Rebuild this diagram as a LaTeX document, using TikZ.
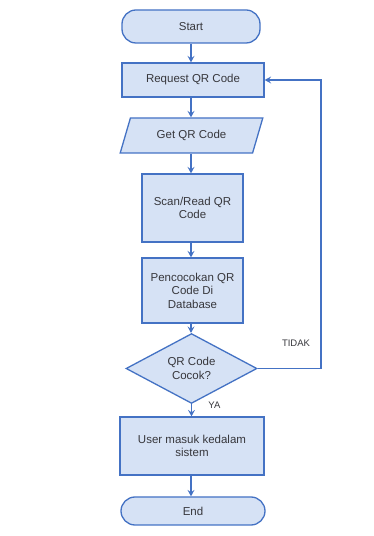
\documentclass[tikz,border=0pt]{standalone}
\usepackage{fontspec}
\setmainfont{Liberation Sans}
\usetikzlibrary{arrows.meta,positioning,shapes.geometric}
\definecolor{flowLine}{RGB}{68,114,196}
\definecolor{flowFill}{RGB}{214,226,245}
\definecolor{flowText}{RGB}{55,55,60}

\begin{document}
\begin{tikzpicture}[x=1pt, y=1pt,
    every node/.style={font=\fontsize{11.5}{13.5}\selectfont, text=flowText},
    flowbox/.style={draw=flowLine, fill=flowFill, line width=1.3pt, align=center, inner sep=2pt},
    flowterm/.style={flowbox, rounded corners=14pt},
    flowio/.style={flowbox, trapezium, trapezium left angle=67, trapezium right angle=113, trapezium stretches=true},
    flowdec/.style={flowbox, diamond, inner sep=0pt},
    flowarrow/.style={draw=flowLine, line width=1.3pt, -{Stealth[length=6.5pt, width=7pt, inset=2.5pt]}}]
    \useasboundingbox (0,0) rectangle (374,536);
    % main column
    \node[flowterm, minimum width=138, minimum height=33] (start) at (191,509.5) {Start};
    \node[flowbox, minimum width=142, minimum height=34] (request) at (193,456) {Request QR Code};
    \node[flowio, minimum width=143, minimum height=35] (getqr) at (191.5,400.5) {Get QR Code};
    \node[flowbox, minimum width=101, minimum height=68] (scan) at (192.5,328) {Scan/Read QR\\Code};
    \node[flowbox, minimum width=101, minimum height=65] (match) at (192.5,245.5) {Pencocokan QR\\Code Di\\Database};
    \node[flowdec, minimum width=131, minimum height=67] (check) at (191.5,167.5) {QR Code\\Cocok?};
    \node[flowbox, minimum width=144, minimum height=58] (login) at (192,90) {User masuk kedalam\\sistem};
    \node[flowterm, minimum width=144, minimum height=28] (finish) at (193,25) {End};
    % connectors
    \draw[flowarrow] (start) -- (start |- request.north);
    \draw[flowarrow] (request.south -| start) -- (start |- getqr.north);
    \draw[flowarrow] (getqr.south -| start) -- (start |- scan.north);
    \draw[flowarrow] (scan.south -| start) -- (start |- match.north);
    \draw[flowarrow] (match.south -| start) -- (start |- check.north);
    \draw[flowarrow] (check.south) -- (check.south |- login.north) node[pos=0.1, right=13pt, font=\fontsize{9.5}{11}\selectfont] {YA};
    \draw[flowarrow] (login.south -| start) -- (start |- finish.north);
    \coordinate (loopcorner) at (321,167.5);
    \draw[flowarrow] (check.east) -- (loopcorner) -- (loopcorner |- request.east) -- (request.east);
    \node[font=\fontsize{9.5}{11}\selectfont] (nolabel) at (296,193) {TIDAK};
\end{tikzpicture}
\end{document}
